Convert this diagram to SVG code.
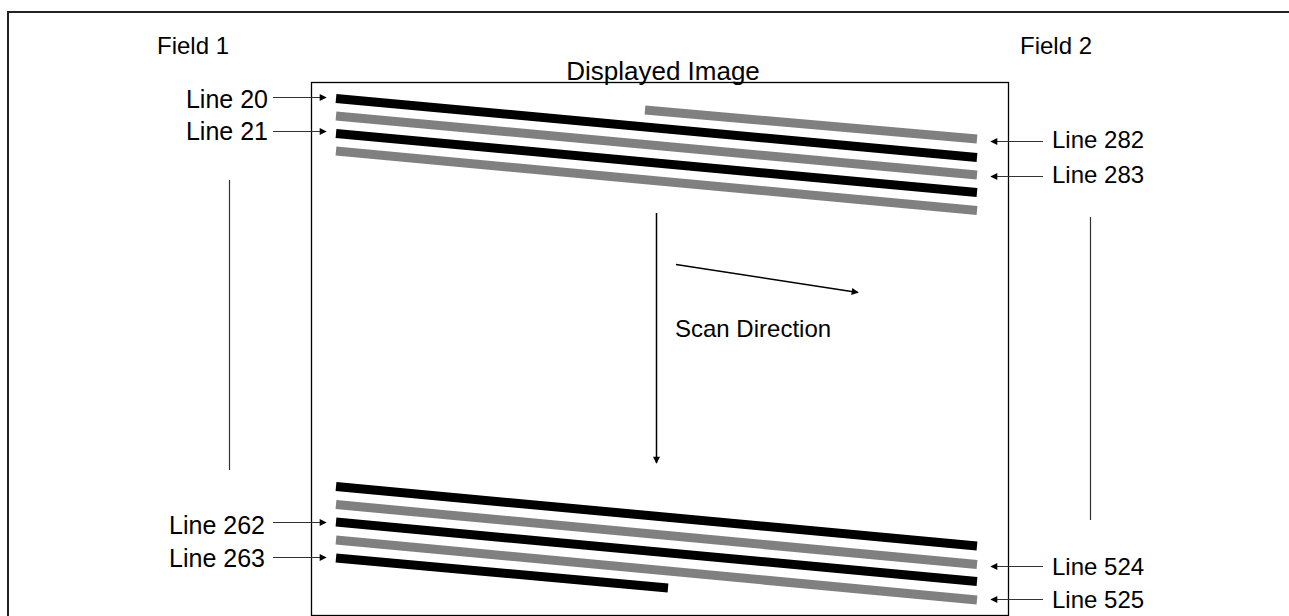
<svg xmlns="http://www.w3.org/2000/svg" width="1289" height="616" viewBox="0 0 1289 616">
<style>
text{font-family:"Liberation Sans",Arial,sans-serif;font-size:24px;fill:#000}
.l{text-anchor:end}
.blk{stroke:#000;stroke-width:9;stroke-linecap:butt}
.gry{stroke:#808080;stroke-width:9;stroke-linecap:butt}
.ld{stroke:#333;stroke-width:1.2;fill:none}
</style>
<defs>
<marker id="ah" viewBox="0 0 10 10" refX="9" refY="5" markerWidth="8" markerHeight="7" markerUnits="userSpaceOnUse" orient="auto">
<path d="M0,0L10,5L0,10z" fill="#000"/>
</marker>
</defs>
<rect x="8" y="12" width="1300" height="700" fill="#fff" stroke="#222" stroke-width="2"/>
<g id="display">
<rect x="311.5" y="82.5" width="697" height="533" fill="none" stroke="#000" stroke-width="1.3"/>
<text x="663" y="80" text-anchor="middle" style="font-size:26px">Displayed Image</text>
</g>
<g id="field1"><text x="157" y="54">Field 1</text></g>
<g id="field2"><text x="1020" y="54">Field 2</text></g>
<g id="bars-top">
<line class="blk" x1="336" y1="98.5" x2="977" y2="157.5"/>
<line class="gry" x1="336" y1="116" x2="977" y2="175"/>
<line class="blk" x1="336" y1="133.5" x2="977" y2="192.5"/>
<line class="gry" x1="336" y1="151" x2="977" y2="210.5"/>
<line class="gry" x1="645" y1="110" x2="977" y2="139"/>
</g>
<g id="bars-bottom">
<line class="blk" x1="336" y1="486.5" x2="977" y2="546"/>
<line class="gry" x1="336" y1="504.5" x2="977" y2="564.5"/>
<line class="blk" x1="336" y1="522" x2="977" y2="581.5"/>
<line class="gry" x1="336" y1="540" x2="977" y2="600"/>
<line class="blk" x1="336" y1="558" x2="668" y2="588"/>
</g>
<g id="labels">
<text class="l" x="268" y="108" style="font-size:25px">Line 20</text>
<text class="l" x="268" y="140" style="font-size:25px">Line 21</text>
<text class="l" x="265" y="534" style="font-size:25px">Line 262</text>
<text class="l" x="265" y="567" style="font-size:25px">Line 263</text>
<text x="1052" y="148">Line 282</text>
<text x="1052" y="183">Line 283</text>
<text x="1052" y="575">Line 524</text>
<text x="1052" y="608">Line 525</text>
<text x="675" y="337">Scan Direction</text>
</g>
<g id="connectors">
<line class="ld" x1="273" y1="97.5" x2="326" y2="97.5" marker-end="url(#ah)"/>
<line class="ld" x1="273" y1="131.5" x2="326" y2="131.5" marker-end="url(#ah)"/>
<line class="ld" x1="273" y1="522.5" x2="326" y2="522.5" marker-end="url(#ah)"/>
<line class="ld" x1="273" y1="557.5" x2="326" y2="557.5" marker-end="url(#ah)"/>
<line class="ld" x1="1043" y1="141.5" x2="991" y2="141.5" marker-end="url(#ah)"/>
<line class="ld" x1="1043" y1="176.5" x2="991" y2="176.5" marker-end="url(#ah)"/>
<line class="ld" x1="1043" y1="566.5" x2="991" y2="566.5" marker-end="url(#ah)"/>
<line class="ld" x1="1043" y1="599.5" x2="991" y2="599.5" marker-end="url(#ah)"/>
<line class="ld" x1="229.5" y1="180" x2="229.5" y2="470"/>
<line class="ld" x1="1090.5" y1="217" x2="1090.5" y2="520"/>
<line stroke="#000" stroke-width="1.5" x1="656.5" y1="213" x2="656.5" y2="463" marker-end="url(#ah)"/>
<line stroke="#000" stroke-width="1.5" x1="676" y1="264.5" x2="858" y2="292.5" marker-end="url(#ah)"/>
</g>
</svg>
